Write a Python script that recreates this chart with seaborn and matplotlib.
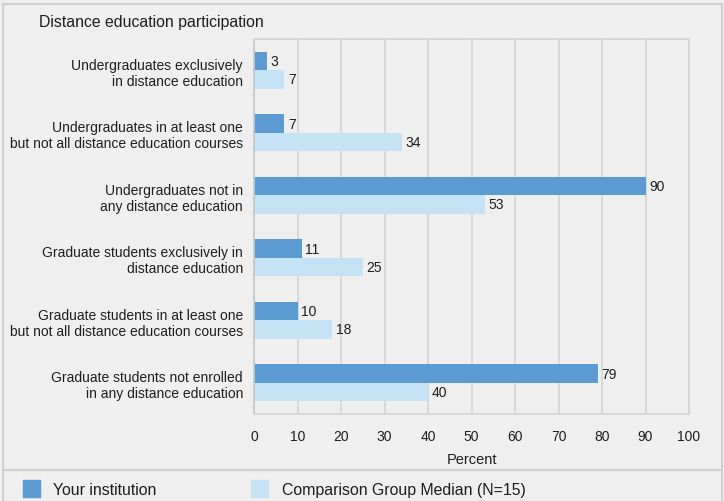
"""Distance education participation chart."""

import matplotlib.pyplot as plt
import pandas as pd
import seaborn as sns
from matplotlib.lines import Line2D
from matplotlib.patches import Rectangle

categorias = [
    "Undergraduates exclusively\nin distance education",
    "Undergraduates in at least one\nbut not all distance education courses",
    "Undergraduates not in\nany distance education",
    "Graduate students exclusively in\ndistance education",
    "Graduate students in at least one\nbut not all distance education courses",
    "Graduate students not enrolled\nin any distance education",
]
series = ["Your institution", "Comparison Group Median (N=15)"]
sua_instituicao = [3, 7, 90, 11, 10, 79]
mediana_grupo = [7, 34, 53, 25, 18, 40]
cores = ["#5b9bd1", "#c6e3f6"]

df = pd.DataFrame(
    {
        "categoria": categorias * 2,
        "serie": [series[0]] * len(categorias) + [series[1]] * len(categorias),
        "valor": sua_instituicao + mediana_grupo,
    }
)

sns.set_style("white")
plt.rcParams["font.family"] = ["Liberation Sans", "DejaVu Sans"]
plt.rcParams["font.size"] = 10

fundo = "#efefef"
texto = "#1e1e1e"
grade = "#d6d6d6"
fig = plt.figure(figsize=(7.24, 5.02), dpi=100, facecolor=fundo)
ax = fig.add_axes([254 / 724, 1 - 415 / 502, 435 / 724, 375 / 502])
ax.set_facecolor(fundo)

sns.barplot(
    data=df,
    y="categoria",
    x="valor",
    hue="serie",
    palette=cores,
    orient="h",
    width=0.59,
    saturation=1,
    linewidth=0,
    legend=False,
    ax=ax,
)

for container in ax.containers:
    ax.bar_label(container, padding=2.5, fontsize=10, color=texto)

ax.set_xlim(0, 100)
ax.set_xticks(range(0, 101, 10))
ax.set_xlabel("Percent", fontsize=10.5, color=texto, labelpad=6)
ax.set_ylabel("")
ax.grid(axis="x", color=grade, linewidth=1.3)
ax.set_axisbelow(True)
for lado in ["top", "right", "bottom", "left"]:
    ax.spines[lado].set_color(grade)
    ax.spines[lado].set_linewidth(1.3)
ax.spines["left"].set_color("#c8c8c8")
ax.tick_params(axis="x", length=7, width=1.3, color=grade, labelsize=10,
               labelcolor=texto, pad=4)
ax.tick_params(axis="y", length=0, labelsize=10, labelcolor=texto, pad=8)
for rotulo in ax.get_yticklabels():
    rotulo.set_horizontalalignment("right")
    rotulo.set_multialignment("right")

fig.text(39 / 724, 1 - 23 / 502, "Distance education participation",
         fontsize=11.4, color=texto, va="center")

# borda e separador da legenda
fig.add_artist(Rectangle((3 / 724, -0.01), 719 / 724, 1 - 5 / 502 + 0.01,
                         transform=fig.transFigure, fill=False,
                         edgecolor="#d0d0d0", linewidth=1.5))
fig.add_artist(Line2D([3 / 724, 722 / 724], [1 - 471 / 502] * 2,
                      transform=fig.transFigure, color="#d0d0d0", linewidth=1.5))

posicoes = [(23, 53), (251, 282)]
for (xq, xt), nome, cor in zip(posicoes, series, cores):
    fig.add_artist(Rectangle((xq / 724, 1 - 498 / 502), 17 / 724, 17 / 502,
                             transform=fig.transFigure, color=cor))
    fig.text(xt / 724, 1 - 491 / 502, nome, fontsize=11.4, color=texto,
             va="center")

fig.savefig("out.png", dpi=100, facecolor=fundo)
